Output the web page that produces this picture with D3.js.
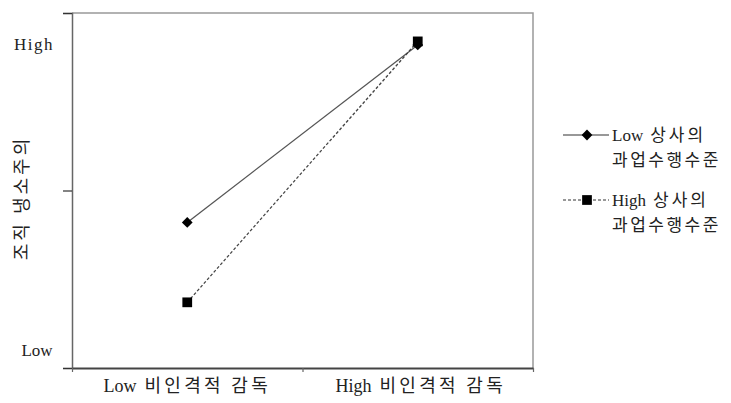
<!DOCTYPE html>
<html><head><meta charset="utf-8">
<script src="https://cdn.jsdelivr.net/npm/d3@7"></script>
<style>
html,body{margin:0;padding:0;background:#fff;}
svg{display:block;}
</style></head>
<body><svg id="c" width="731" height="403"></svg>
<script>
const categories = ["Low 비인격적 감독", "High 비인격적 감독"];
const seriesNames = ["Low 상사의", "High 상사의"];
const seriesSub = "과업수행수준";
const lowSeries = [0.82, 1.82];
const highSeries = [0.37, 1.84];
const yTickValues = [0, 1, 2];
const yLevelLabels = ["Low", "High"];
const yTitle = "조직 냉소주의";

const svg = d3.select("#c");
const L = 72, R = 533, T = 13, B = 368;
const x = d3.scaleBand().domain(categories).range([L, R]);
const xEdge = d3.scaleLinear().domain([0, categories.length]).range([L, R]);
const y = d3.scaleLinear().domain([0, 2]).range([B, T]);
const cx = c => x(c) + x.bandwidth() / 2;

function mixedText(sel, str, ls, gap) {
  const i = str.indexOf(" ");
  sel.append("tspan").attr("font-family","'Liberation Serif',serif").text(str.slice(0, i));
  sel.append("tspan").attr("dx", gap).attr("font-family","'Noto Sans CJK KR',sans-serif").attr("letter-spacing", ls).text(str.slice(i + 1));
}

// box top/right
svg.append("path").attr("d", `M${L},${T}H${R}V${B}`).attr("fill","none").attr("stroke","#999").attr("stroke-width",1.5);

// y axis
const ya = svg.append("g").attr("transform", `translate(${L},0)`)
  .call(d3.axisLeft(y).tickValues(yTickValues).tickSize(9).tickFormat(""));
ya.select(".domain").attr("stroke","#666").attr("stroke-width",1.5);
ya.selectAll(".tick line").attr("stroke","#333").attr("stroke-width",1.2);

// x axis
const xa = svg.append("g").attr("transform", `translate(0,${B})`)
  .call(d3.axisBottom(xEdge).tickValues(d3.range(categories.length + 1)).tickSize(4).tickSizeOuter(0).tickFormat(""));
xa.select(".domain").attr("stroke","#444").attr("stroke-width",2);
xa.selectAll(".tick line").attr("stroke","#666").attr("stroke-width",1.2);

// category labels
categories.forEach(c => {
  const t = svg.append("text").attr("x", cx(c) + (c.startsWith("High") ? 3 : 0)).attr("y", 392)
    .attr("text-anchor","middle").attr("font-size", 18).attr("fill","#222");
  mixedText(t, c, 3.3, 8);
});

// y level labels
svg.append("text").attr("x", 34).attr("y", 50).attr("text-anchor","middle")
  .attr("font-size", 17).attr("fill","#222").attr("font-family","'Liberation Serif',serif")
  .attr("letter-spacing", 1.5).text(yLevelLabels[1]);
svg.append("text").attr("x", 37).attr("y", 356).attr("text-anchor","middle")
  .attr("font-size", 17).attr("fill","#222").attr("font-family","'Liberation Serif',serif")
  .text(yLevelLabels[0]);

// y title
svg.append("text").attr("transform","translate(28,198) rotate(-90)")
  .attr("text-anchor","middle").attr("font-size",18).attr("fill","#222")
  .attr("font-family","'Noto Sans CJK KR',sans-serif").attr("letter-spacing", 3)
  .text(yTitle);

const line = d3.line().x((d,i) => cx(categories[i])).y(d => y(d));

// lines
svg.append("path").datum(lowSeries).attr("d", line).attr("fill","none")
  .attr("stroke","#555").attr("stroke-width",1.3);
svg.append("path").datum(highSeries).attr("d", line).attr("fill","none")
  .attr("stroke","#444").attr("stroke-width",1.3).attr("stroke-dasharray","3,2");

const diamond = d3.symbol().type(d3.symbolSquare).size(58);
const square = d3.symbol().type(d3.symbolSquare).size(95);

// markers
svg.selectAll("path.hm").data(highSeries).enter().append("path").attr("class","hm")
  .attr("d", square).attr("transform",(d,i)=>`translate(${cx(categories[i])},${y(d)})`).attr("fill","#000");
svg.selectAll("path.lm").data(lowSeries).enter().append("path").attr("class","lm")
  .attr("d", diamond).attr("transform",(d,i)=>`translate(${cx(categories[i])},${y(d)}) rotate(45)`).attr("fill","#000");

// legend
const leg = [
  {name: seriesNames[0], y: 135, dash: null, sym: diamond, rot: 45},
  {name: seriesNames[1], y: 200, dash: "3,2", sym: square, rot: 0}
];
leg.forEach(l => {
  svg.append("line").attr("x1",563).attr("x2",609).attr("y1",l.y).attr("y2",l.y)
    .attr("stroke","#333").attr("stroke-width",1.2).attr("stroke-dasharray", l.dash);
  svg.append("path").attr("d", l.sym).attr("transform",`translate(587,${l.y}) rotate(${l.rot})`).attr("fill","#000");
  const t = svg.append("text").attr("x",612).attr("y",l.y+6).attr("font-size",17).attr("fill","#222");
  mixedText(t, l.name, 3, 7);
  svg.append("text").attr("x",612).attr("y",l.y+31).attr("font-size",17).attr("fill","#222")
    .attr("font-family","'Noto Sans CJK KR',sans-serif").attr("letter-spacing",2.5).text(seriesSub);
});
</script></body></html>
